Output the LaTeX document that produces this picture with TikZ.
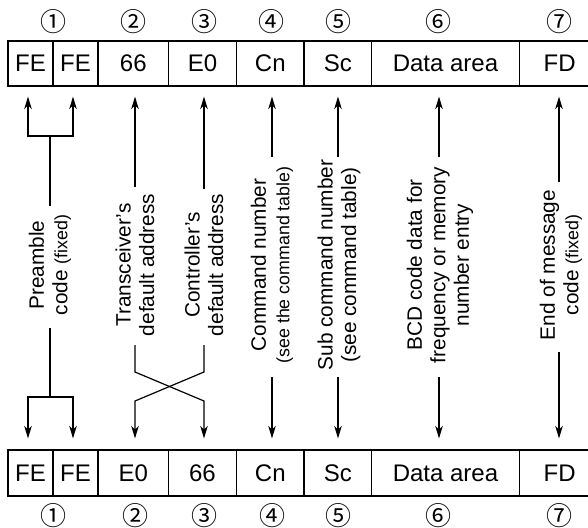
\documentclass[tikz,border=0pt]{standalone}
\usepackage{fontspec}
\setmainfont{Liberation Sans}
\newfontfamily\circfont{Noto Sans CJK JP}
\usetikzlibrary{arrows.meta}
\begin{document}
\begin{tikzpicture}[x=1pt,y=-1pt,
  cell/.style={draw, line width=1.1pt, inner sep=0pt, font=\fontsize{24}{24}\selectfont},
  toprow/.style={cell, minimum height=45pt},
  botrow/.style={cell, minimum height=46pt},
  lbl/.style={rotate=90, align=center, inner sep=0pt, font=\fontsize{20.8}{23.5}\selectfont},
  num/.style={inner sep=0pt, text height=19pt, text depth=0pt, font=\circfont\fontsize{26}{26}\selectfont},
  conn/.style={line width=1.2pt},
  arr/.style={conn, -{Stealth[length=12.5pt,width=7.5pt,inset=3.5pt]}, shorten >=10pt},
]
\newcommand{\smallt}{\fontsize{17.8}{23.5}\selectfont}
\useasboundingbox (0,0) rectangle (588,527);

% top row
\node[toprow, minimum width=45pt]    (fe1t) at (30.5,63.5)  {FE};
\node[toprow, minimum width=45pt]    (fe2t) at (75.5,63.5)  {FE};
\node[toprow, minimum width=70pt]    (c2t)  at (133.3,63.5) {66};
\node[toprow, minimum width=68.4pt]  (c3t)  at (202.5,63.5) {E0};
\node[toprow, minimum width=67.3pt]  (c4t)  at (270.3,63.5) {Cn};
\node[toprow, minimum width=67.7pt]  (c5t)  at (337.8,63.5) {Sc};
\node[toprow, minimum width=147.6pt] (c6t)  at (445.5,63.5) {Data area};
\node[toprow, minimum width=80.7pt]  (c7t)  at (559.6,63.5) {FD};

% bottom row
\node[botrow, minimum width=45pt]    (fe1b) at (30.5,473)  {FE};
\node[botrow, minimum width=45pt]    (fe2b) at (75.5,473)  {FE};
\node[botrow, minimum width=70pt]    (c2b)  at (133.3,473) {E0};
\node[botrow, minimum width=68.4pt]  (c3b)  at (202.5,473) {66};
\node[botrow, minimum width=67.3pt]  (c4b)  at (270.3,473) {Cn};
\node[botrow, minimum width=67.7pt]  (c5b)  at (337.8,473) {Sc};
\node[botrow, minimum width=147.6pt] (c6b)  at (445.5,473) {Data area};
\node[botrow, minimum width=80.7pt]  (c7b)  at (559.6,473) {FD};

% circled numbers
\node[num] (n1t) at (53,22)  {①};
\node[num] (n2t) at (133,22) {②};
\node[num] (n3t) at (204,22) {③};
\node[num] (n4t) at (271,22) {④};
\node[num] (n5t) at (338,22) {⑤};
\node[num] (n6t) at (438,22) {⑥};
\node[num] (n7t) at (559,22) {⑦};
\node[num] (n1b) at (53,515.5)  {①};
\node[num] (n2b) at (135,515.5) {②};
\node[num] (n3b) at (204,515.5) {③};
\node[num] (n4b) at (272,515.5) {④};
\node[num] (n5b) at (338,515.5) {⑤};
\node[num] (n6b) at (438,515.5) {⑥};
\node[num] (n7b) at (559,515.5) {⑦};

% labels
\node[lbl] (lpre) at (50,265)  {Preamble\\code {\smallt(fixed)}};
\node[lbl] (ltr)  at (135,265) {Transceiver’s\\default address};
\node[lbl] (lco)  at (204,265) {Controller’s\\default address};
\node[lbl] (lcmd) at (272,265) {Command number\\{\smallt(see the command table)}};
\node[lbl] (lsub) at (339,265) {Sub command number\\(see command table)};
\node[lbl] (lbcd) at (440,265) {BCD code data for\\frequency or memory\\number entry};
\node[lbl] (lend) at (561,265) {End of message\\code {\smallt(fixed)}};

% connector ends
\coordinate (preU) at (50,206);
\coordinate (preJU) at (50,136);
\coordinate (preD) at (50,328);
\coordinate (preJD) at (50,397);
\coordinate (trU) at (135,187);
\coordinate (coU) at (204,189);
\coordinate (cmdU) at (272,157);
\coordinate (subU) at (338,157);
\coordinate (bcdU) at (439,157);
\coordinate (endU) at (559,182);
\coordinate (trD) at (135,345);
\coordinate (coD) at (204,345);
\coordinate (cmdD) at (272,377);
\coordinate (subD) at (338,377);
\coordinate (bcdD) at (439,377);
\coordinate (endD) at (559,352);

% top connectors
\draw[conn] (preU) -- (preJU);
\draw[arr] (preJU) -| ([xshift=-2.5pt]fe1t.south);
\draw[arr] (preJU) -| ([xshift=-2.5pt]fe2t.south);
\draw[arr] (trU) -- (trU |- c2t.south);
\draw[arr] (coU) -- (coU |- c3t.south);
\draw[arr] (cmdU) -- (cmdU |- c4t.south);
\draw[arr] (subU) -- (subU |- c5t.south);
\draw[arr] (bcdU) -- (bcdU |- c6t.south);
\draw[arr] (endU) -- (endU |- c7t.south);

% bottom connectors
\draw[conn] (preD) -- (preJD);
\draw[arr, shorten >=11pt] (preJD) -| ([xshift=-2.5pt]fe1b.north);
\draw[arr, shorten >=11pt] (preJD) -| ([xshift=-2.5pt]fe2b.north);
\draw[arr, shorten >=11pt] (trD) -- (135,372) -- (204,401) -- (coD |- c3b.north);
\draw[arr, shorten >=11pt] (coD) -- (204,372) -- (135,401) -- (trD |- c2b.north);
\draw[arr, shorten >=11pt] (cmdD) -- (cmdD |- c4b.north);
\draw[arr, shorten >=11pt] (subD) -- (subD |- c5b.north);
\draw[arr, shorten >=11pt] (bcdD) -- (bcdD |- c6b.north);
\draw[arr, shorten >=11pt] (endD) -- (endD |- c7b.north);
\end{tikzpicture}
\end{document}
